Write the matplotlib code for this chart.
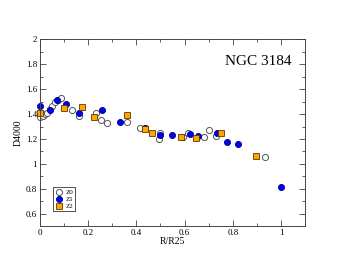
import numpy as np
import matplotlib.pyplot as plt
from matplotlib.ticker import MultipleLocator

# Z0 - open circles
x0 = [0.0, 0.014, 0.021, 0.03, 0.041, 0.051, 0.062, 0.076, 0.087, 0.135, 0.161,
      0.234, 0.255, 0.278, 0.361, 0.416, 0.437, 0.493, 0.5, 0.592, 0.613, 0.679,
      0.702, 0.730, 0.934]
y0 = [1.375, 1.386, 1.40, 1.408, 1.44, 1.468, 1.494, 1.516, 1.53, 1.435, 1.386,
      1.408, 1.35, 1.327, 1.34, 1.29, 1.285, 1.197, 1.246, 1.216, 1.25, 1.216,
      1.275, 1.224, 1.057]
# Z1 - filled blue
x1 = [0.0, 0.041, 0.072, 0.11, 0.161, 0.258, 0.333, 0.437, 0.5, 0.547, 0.623,
      0.657, 0.736, 0.774, 0.822, 1.0]
y1 = [1.468, 1.435, 1.515, 1.48, 1.41, 1.435, 1.34, 1.29, 1.23, 1.23, 1.24,
      1.225, 1.25, 1.175, 1.16, 0.815]
# Z2 - orange squares
x2 = [0.0, 0.099, 0.175, 0.223, 0.36, 0.437, 0.466, 0.585, 0.647, 0.751, 0.898]
y2 = [1.41, 1.448, 1.455, 1.38, 1.395, 1.282, 1.245, 1.215, 1.205, 1.25, 1.062]

plt.rcParams['font.family'] = 'Liberation Serif'
fig = plt.figure(figsize=(3.44, 2.66), dpi=100)
ax = fig.add_axes([0.116, 0.15, 0.771, 0.702])

ax.plot(x0, y0, 'o', ms=4.4, mfc='white', mec='#555555', mew=0.7, label='Z0', clip_on=False)
ax.plot(x1, y1, 'o', ms=4.4, mfc='#0000ee', mec='#00008b', mew=0.6, label='Z1', clip_on=False)
ax.plot(x2, y2, 's', ms=4.4, mfc='#ffa500', mec='#5a3a00', mew=0.6, label='Z2', clip_on=False)

ax.set_xlim(0, 1.1)
ax.set_ylim(0.5, 2.0)
ax.xaxis.set_minor_locator(MultipleLocator(0.1))
ax.yaxis.set_minor_locator(MultipleLocator(0.1))
ax.set_xticks([0, 0.2, 0.4, 0.6, 0.8, 1.0])
ax.set_xticklabels(['0', '0.2', '0.4', '0.6', '0.8', '1'])
ax.set_yticks([0.6, 0.8, 1.0, 1.2, 1.4, 1.6, 1.8, 2.0])
ax.set_yticklabels(['0.6', '0.8', '1', '1.2', '1.4', '1.6', '1.8', '2'])
ax.tick_params(which='both', direction='in', top=True, right=True, labelsize=6.5,
               width=0.6, pad=2, color='#444444')
ax.tick_params(which='major', length=4)
ax.tick_params(which='minor', length=2)
for s in ax.spines.values():
    s.set_linewidth(0.7)
    s.set_color('#444444')

ax.set_xlabel('R/R25', fontsize=7, labelpad=0)
ax.set_ylabel('D4000', fontsize=7, labelpad=2)
ax.text(0.95, 0.88, 'NGC 3184', transform=ax.transAxes, ha='right', va='center',
        fontsize=11)

leg = ax.legend(loc='lower left', bbox_to_anchor=(0.05, 0.08), fontsize=5,
                handlelength=1.0, handletextpad=0.5, borderpad=0.3,
                labelspacing=0.15, fancybox=False, framealpha=1,
                edgecolor='#333333', borderaxespad=0)
leg.get_frame().set_linewidth(0.6)

plt.savefig('out.png', dpi=100)
